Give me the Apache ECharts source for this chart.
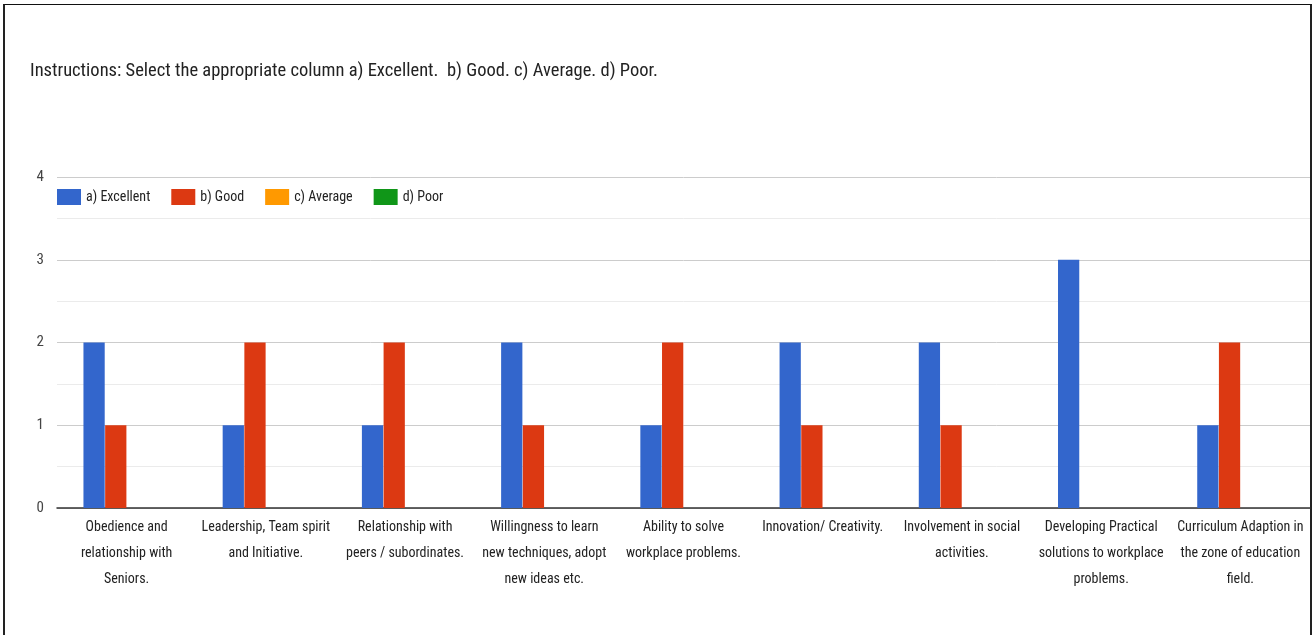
<!DOCTYPE html>
<html>
<head>
<meta charset="utf-8">
<script src="https://cdn.jsdelivr.net/npm/echarts@6/dist/echarts.min.js"></script>
<style>
html,body{margin:0;padding:0;background:#fff;overflow:hidden;}
#frame{position:absolute;left:3px;top:4px;width:1309px;height:700px;border-top:1px solid #111;border-left:2px solid #222;border-right:2px solid #222;box-sizing:border-box;}
#chart{position:absolute;left:0;top:0;width:1312px;height:635px;}
</style>
</head>
<body>
<div id="frame"></div>
<div id="chart"></div>
<script>
const titleText = "Instructions: Select the appropriate column a) Excellent.  b) Good. c) Average. d) Poor.";
const categories = [
  "Obedience and\nrelationship with\nSeniors.",
  "Leadership, Team spirit\nand Initiative.",
  "Relationship with\npeers / subordinates.",
  "Willingness to learn\nnew techniques, adopt\nnew ideas etc.",
  "Ability to solve\nworkplace problems.",
  "Innovation/ Creativity.",
  "Involvement in social\nactivities.",
  "Developing Practical\nsolutions to workplace\nproblems.",
  "Curriculum Adaption in\nthe zone of education\nfield."
];
const seriesNames = ["a) Excellent", "b) Good", "c) Average", "d) Poor"];
const excellent = [2, 1, 1, 2, 1, 2, 2, 3, 1];
const good      = [1, 2, 2, 1, 2, 1, 1, 0, 2];
const average   = [0, 0, 0, 0, 0, 0, 0, 0, 0];
const poor      = [0, 0, 0, 0, 0, 0, 0, 0, 0];
const colors = ["#3366CC", "#DC3912", "#FF9900", "#109618"];

const FONT = "'Roboto Condensed', 'Liberation Sans Narrow', 'DejaVu Sans Condensed', Roboto, sans-serif";
const chart = echarts.init(document.getElementById('chart'), null, {renderer: 'canvas'});
const dataSets = [excellent, good, average, poor];
chart.setOption({
  animation: false,
  color: colors,
  textStyle: {fontFamily: FONT},
  title: {
    text: titleText, left: 25, top: 57,
    textStyle: {fontFamily: FONT, fontSize: 18.5, fontWeight: 'normal', color: '#222'}
  },
  legend: {
    data: seriesNames, left: 52, top: 184, icon: 'rect',
    itemWidth: 24, itemHeight: 16, itemGap: 21,
    textStyle: {fontFamily: FONT, fontSize: 14, color: '#222'}
  },
  grid: {left: 57, right: 2, top: 177, bottom: 127, containLabel: false},
  xAxis: {
    type: 'category', data: categories,
    axisTick: {show: false},
    axisLine: {lineStyle: {color: '#333', width: 1.5}},
    axisLabel: {interval: 0, fontFamily: FONT, fontSize: 14, lineHeight: 26, color: '#222', margin: 6}
  },
  yAxis: {
    type: 'value', min: 0, max: 4, interval: 1,
    axisLabel: {fontFamily: FONT, fontSize: 15, color: '#444', margin: 13},
    splitLine: {lineStyle: {color: '#cccccc', width: 1}},
    minorTick: {show: false, splitNumber: 2},
    minorSplitLine: {show: true, lineStyle: {color: '#ebebeb', width: 1}}
  },
  series: seriesNames.map((n, i) => ({
    name: n, type: 'bar', data: dataSets[i],
    barGap: '2%', barCategoryGap: '38%',
    itemStyle: {color: colors[i]}
  }))
});
</script>
</body>
</html>
